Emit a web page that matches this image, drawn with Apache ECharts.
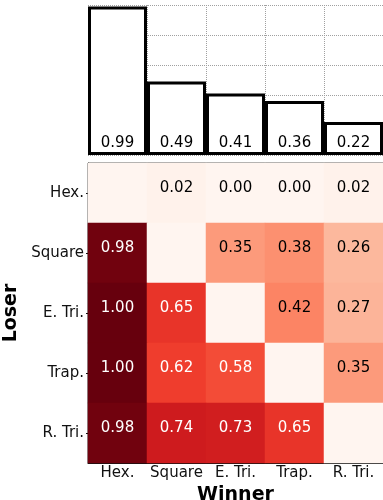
<!DOCTYPE html>
<html>
<head>
<meta charset="utf-8">
<script src="https://cdn.jsdelivr.net/npm/echarts@6/dist/echarts.min.js"></script>
<style>html,body{margin:0;padding:0;background:#fff;}#c{width:383px;height:500px;}</style>
</head>
<body>
<div id="c"></div>
<script>
const categories = ['Hex.', 'Square', 'E. Tri.', 'Trap.', 'R. Tri.'];
const barValues = [0.99, 0.49, 0.41, 0.36, 0.22];
// rows = loser, columns = winner; null on the diagonal
const rowHex    = [null, 0.02, 0.00, 0.00, 0.02];
const rowSquare = [0.98, null, 0.35, 0.38, 0.26];
const rowETri   = [1.00, 0.65, null, 0.42, 0.27];
const rowTrap   = [1.00, 0.62, 0.58, null, 0.35];
const rowRTri   = [0.98, 0.74, 0.73, 0.65, null];
const matrix = [rowHex, rowSquare, rowETri, rowTrap, rowRTri];

const reds = ['#fff5f0','#fee0d2','#fcbba1','#fc9272','#fb6a4a','#ef3b2c','#cb181d','#a50f15','#67000d'];
const font = 'DejaVu Sans';

const heatData = [];
matrix.forEach((row, i) => {
  row.forEach((v, j) => {
    heatData.push({
      value: [j, i, v === null ? 0 : v],
      label: {
        show: v !== null,
        color: (v !== null && v > 0.5) ? '#ffffff' : '#000000'
      }
    });
  });
});

const chart = echarts.init(document.getElementById('c'), null, {renderer: 'canvas'});
chart.setOption({
  animation: false,
  backgroundColor: '#ffffff',
  grid: [
    {left: 88, top: 5, width: 295, height: 150, outerBoundsMode: 'none', containLabel: false},
    {left: 88, top: 163, width: 295, height: 300, outerBoundsMode: 'none', containLabel: false,
     show: true, borderColor: '#3a3a3a', borderWidth: 1, backgroundColor: 'transparent'}
  ],
  xAxis: [
    {
      gridIndex: 0, type: 'category', data: categories,
      axisLine: {show: false}, axisTick: {show: false}, axisLabel: {show: false},
      splitLine: {show: true, interval: 0, lineStyle: {type: 'dotted', color: '#a0a0a0', width: 1}}
    },
    {
      gridIndex: 1, type: 'category', data: categories, position: 'bottom',
      axisLine: {show: true, lineStyle: {color: '#111', width: 1}},
      axisTick: {show: true, alignWithLabel: true, inside: true, length: 3, lineStyle: {color: '#111'}},
      axisLabel: {fontFamily: font, fontSize: 15, color: '#111', margin: 3, interval: 0},
      splitLine: {show: false},
      name: 'Winner', nameLocation: 'middle', nameGap: 20,
      nameTextStyle: {fontFamily: font, fontSize: 19, fontWeight: 'bold', color: '#000'}
    }
  ],
  yAxis: [
    {
      gridIndex: 0, type: 'value', min: 0, max: 1, interval: 0.2,
      axisLine: {show: false}, axisTick: {show: false}, axisLabel: {show: false},
      splitLine: {show: true, lineStyle: {type: 'dotted', color: '#a0a0a0', width: 1}}
    },
    {
      gridIndex: 1, type: 'category', data: categories, inverse: true,
      axisLine: {show: true, lineStyle: {color: '#111', width: 1}},
      axisTick: {show: true, alignWithLabel: true, length: 2, lineStyle: {color: '#111'}},
      axisLabel: {fontFamily: font, fontSize: 15, color: '#111', margin: 4, interval: 0},
      name: 'Loser', nameLocation: 'middle', nameGap: 51, nameRotate: 90,
      nameTextStyle: {fontFamily: font, fontSize: 19, fontWeight: 'bold', color: '#000'}
    }
  ],
  visualMap: {
    show: false, min: 0, max: 1, seriesIndex: 1, dimension: 2,
    inRange: {color: reds}
  },
  series: [
    {
      type: 'bar', xAxisIndex: 0, yAxisIndex: 0, data: barValues,
      barCategoryGap: '0%',
      itemStyle: {color: '#ffffff', borderColor: '#000000', borderWidth: 3},
      label: {
        show: true, position: 'insideBottom', distance: 4,
        fontFamily: font, fontSize: 15, color: '#000',
        formatter: p => p.value.toFixed(2)
      },
      z: 3
    },
    {
      type: 'heatmap', xAxisIndex: 1, yAxisIndex: 1, data: heatData,
      label: {
        show: true, fontFamily: font, fontSize: 15, offset: [0, -5],
        formatter: p => p.value[2].toFixed(2)
      },
      itemStyle: {borderWidth: 0}
    }
  ]
});
</script>
</body>
</html>
